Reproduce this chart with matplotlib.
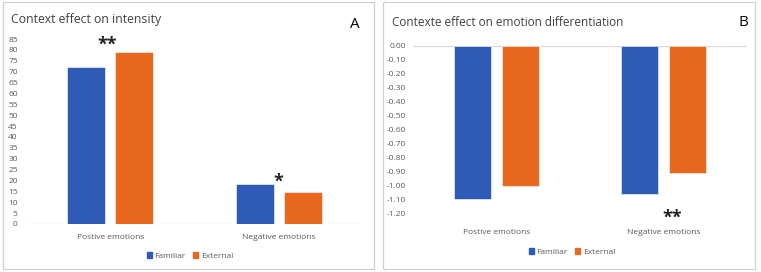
import matplotlib.pyplot as plt
from matplotlib.patches import Rectangle, Patch
import numpy as np

# data
categories = ['Postive emotions', 'Negative emotions']
series = ['Familiar', 'External']
intensity_familiar = [72.0, 18.2]
intensity_external = [79.2, 14.6]
diff_familiar = [-1.09, -1.06]
diff_external = [-1.00, -0.91]
intensity_ticks = list(range(0, 90, 5))
diff_ticks = [-1.2, -1.1, -1.0, -0.9, -0.8, -0.7, -0.6, -0.5, -0.4, -0.3, -0.2, -0.1, 0.0]

BLUE = '#2E5BB6'
ORANGE = '#E8681F'
GRAY = '#595959'

plt.rcParams['font.family'] = ['Open Sans', 'DejaVu Sans']

W, H = 761, 272
fig = plt.figure(figsize=(W / 100, H / 100), dpi=100)


def px_axes(x0, y0, x1, y1):
    # pixel box (top-left origin) -> axes
    return fig.add_axes([x0 / W, 1 - y1 / H, (x1 - x0) / W, (y1 - y0) / H])


def panel_box(x0, y0, x1, y1):
    fig.patches.append(Rectangle((x0 / W, 1 - y1 / H), (x1 - x0) / W, (y1 - y0) / H,
                                 transform=fig.transFigure, fill=False,
                                 edgecolor='#d0d0d0', lw=0.9))


def draw_bars(ax, fam, ext):
    x = np.arange(len(categories))
    w = 0.225
    ax.bar(x - 0.143, fam, w, color=BLUE, edgecolor='white', lw=0.4)
    ax.bar(x + 0.143, ext, w, color=ORANGE, edgecolor='white', lw=0.4)
    ax.set_xlim(-0.5, 1.5)
    ax.set_xticks(x)
    for s in ['top', 'right', 'left', 'bottom']:
        ax.spines[s].set_visible(False)
    ax.axhline(0, color='#d9d9d9', lw=0.9, zorder=0)
    ax.tick_params(axis='both', length=0, labelsize=6.0, colors=GRAY)


def add_legend(cx, cy):
    fig.legend(handles=[Patch(color=BLUE, label=series[0]), Patch(color=ORANGE, label=series[1])],
               loc='center', bbox_to_anchor=(cx / W, 1 - cy / H), ncol=2, frameon=False,
               fontsize=6.0, handlelength=0.6, handleheight=0.6, handletextpad=0.3,
               columnspacing=0.9, labelcolor=GRAY)


# Panel A
panel_box(3, 2, 374, 269)
axA = px_axes(26, 39, 363, 224)
draw_bars(axA, intensity_familiar, intensity_external)
axA.set_ylim(0, 85)
axA.set_yticks(intensity_ticks)
axA.set_xticklabels(categories)
axA.tick_params(axis='x', pad=7)
axA.tick_params(axis='y', pad=6)
axA.text(-0.02, 82.5, '**', ha='center', va='center', fontsize=13, fontweight='bold', color='#222222')
axA.text(1.0, 19.5, '*', ha='center', va='center', fontsize=13, fontweight='bold', color='#222222')
fig.text(11 / W, 1 - 19 / H, 'Context effect on intensity', fontsize=8.8, color='#404040', va='center')
fig.text(355 / W, 1 - 24 / H, 'A', fontsize=11, color='black', ha='center', va='center')
add_legend(190, 256)

# Panel B
panel_box(383, 2, 755, 269)
axB = px_axes(413, 46, 747, 214)
draw_bars(axB, diff_familiar, diff_external)
axB.set_ylim(-1.2, 0)
axB.set_yticks(diff_ticks)
axB.set_yticklabels([f'{t:.2f}' for t in diff_ticks])
axB.set_xticklabels(categories)
axB.tick_params(axis='x', pad=11)
axB.tick_params(axis='y', pad=5)
axB.text(1.05, -1.225, '**', ha='center', va='center', fontsize=13, fontweight='bold',
         color='#222222', clip_on=False)
fig.text(392 / W, 1 - 23 / H, 'Contexte effect on emotion differentiation', fontsize=8.5,
         color='#404040', va='center')
fig.text(743 / W, 1 - 23 / H, 'B', fontsize=11, color='black', ha='center', va='center')
add_legend(572, 252)

fig.savefig('out.png', dpi=100)
